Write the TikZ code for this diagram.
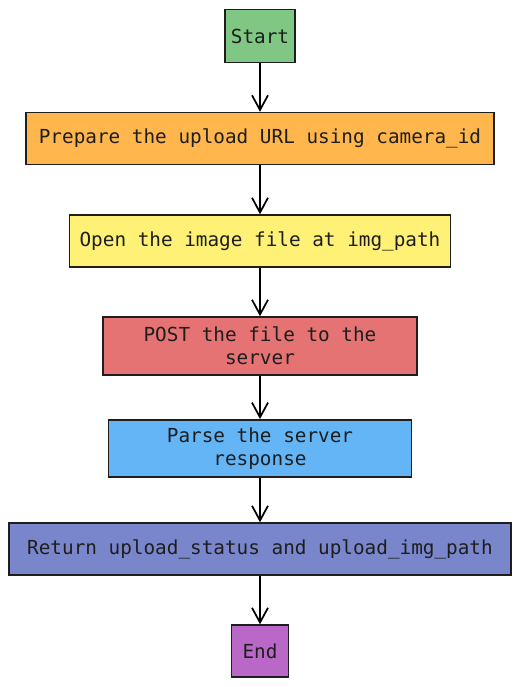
\documentclass[tikz,border=0pt]{standalone}
\usepackage{fontspec}
\setmonofont{DejaVu Sans Mono}
\usepackage{xcolor}
\usetikzlibrary{arrows.meta,positioning}

\definecolor{startgreen}{HTML}{81C784}
\definecolor{prepareorange}{HTML}{FFB74D}
\definecolor{openyellow}{HTML}{FFF176}
\definecolor{postred}{HTML}{E57373}
\definecolor{parseblue}{HTML}{64B5F6}
\definecolor{returnindigo}{HTML}{7986CB}
\definecolor{endpurple}{HTML}{BA68C8}
\definecolor{inkline}{HTML}{1E1E1E}

\begin{document}
\begin{tikzpicture}[x=0.75pt,y=-0.75pt,
    stepbox/.style={draw=inkline,line width=1.1pt,inner sep=0pt,align=center,
        font=\ttfamily\fontsize{14.5}{17.4}\selectfont,text=inkline},
    flow/.style={-{Straight Barb[length=11pt,width=12pt,line width=1.3pt]},line width=1.6pt,black}]

    \useasboundingbox (0,0) rectangle (520,687);

    % The steps
	\node [stepbox,fill=startgreen,minimum width=52.5pt,minimum height=39.5pt] at (260,36) (start) {Start};
	\node [stepbox,fill=prepareorange,minimum width=351pt,minimum height=39pt] at (260,138.5) (prepare) {Prepare the upload URL using camera\_id};
	\node [stepbox,fill=openyellow,minimum width=286pt,minimum height=39pt] at (260,241) (open) {Open the image file at img\_path};
	\node [stepbox,fill=postred,minimum width=235.5pt,minimum height=43.5pt] at (260,346) (post) {POST the file to the\\server};
	\node [stepbox,fill=parseblue,minimum width=227pt,minimum height=43pt] at (260,448.5) (parse) {Parse the server\\response};
	\node [stepbox,fill=returnindigo,minimum width=376.5pt,minimum height=39pt] at (260,549) (return) {Return upload\_status and upload\_img\_path};
	\node [stepbox,fill=endpurple,minimum width=43pt,minimum height=39pt] at (260,651) (end) {End};

	% Step edges
	\path[flow]
	(start) edge (prepare)
	(prepare) edge (open)
	(open) edge (post)
	(post) edge (parse)
	(parse) edge (return)
	(return) edge (end)
	;

\end{tikzpicture}
\end{document}
